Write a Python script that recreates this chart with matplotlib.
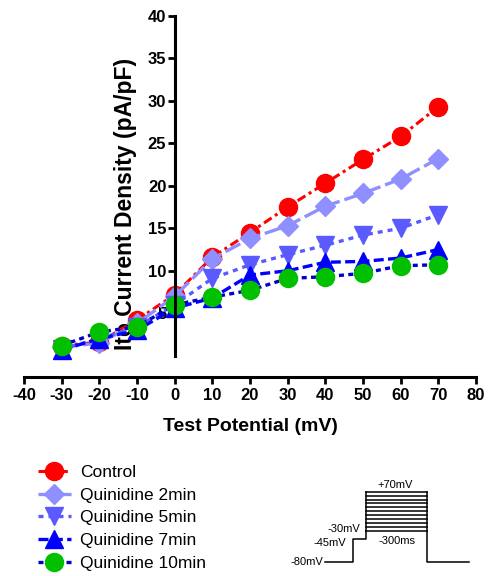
import matplotlib
matplotlib.use("Agg")
import matplotlib.pyplot as plt
import numpy as np

plt.rcParams['font.family'] = ['Liberation Sans', 'DejaVu Sans']
plt.rcParams['axes.unicode_minus'] = False

potentials = [-30, -20, -10, 0, 10, 20, 30, 40, 50, 60, 70]
control = [1.2, 1.6, 4.2, 7.2, 11.6, 14.5, 17.5, 20.3, 23.1, 25.8, 29.3]
quin_2 = [1.0, 1.5, 3.8, 7.0, 11.4, 13.8, 15.3, 17.6, 19.1, 20.8, 23.2]
quin_5 = [0.8, 2.0, 3.4, 6.0, 9.1, 10.7, 11.9, 13.0, 14.2, 15.0, 16.6]
quin_7 = [0.7, 2.0, 3.0, 5.6, 6.8, 9.5, 10.0, 11.0, 11.1, 11.5, 12.5]
quin_10 = [1.2, 2.8, 3.4, 6.0, 6.9, 7.7, 9.1, 9.3, 9.7, 10.6, 10.7]
labels = ["Control", "Quinidine 2min", "Quinidine 5min", "Quinidine 7min", "Quinidine 10min"]
xticks = [-40, -30, -20, -10, 0, 10, 20, 30, 40, 50, 60, 70, 80]
yticks = [5, 10, 15, 20, 25, 30, 35, 40]

fig = plt.figure(figsize=(4.88, 5.76), dpi=100)
ax = fig.add_axes([24/488, 1-377/576, 452/488, (377-15.8)/576])

styles = [
    dict(color='#ff0000', mfc='#ff0000', mec='#ff0000', marker='o', ls=(0, (3, 1.3, 1, 1.3)), ms=13, lw=2.2),
    dict(color='#8f8fff', mfc='#8f8fff', mec='#8f8fff', marker='D', ls=(0, (5, 1.5)), ms=10, lw=2.4),
    dict(color='#5a5aff', mfc='#5a5aff', mec='#5a5aff', marker='v', ls=(0, (1.5, 1.5)), ms=13, lw=2.4),
    dict(color='#0000ff', mfc='#0000ff', mec='#0000ff', marker='^', ls=(0, (3, 1.3)), ms=13, lw=2.4),
    dict(color='#0000c8', mfc='#00c000', mec='#00c000', marker='o', ls=(0, (1.5, 1.3)), ms=13, lw=2.4),
]
series = [control, quin_2, quin_5, quin_7, quin_10]
handles = []
for s, lab, st in zip(series, labels, styles):
    h, = ax.plot(potentials, s, label=lab, clip_on=False, **st)
    handles.append(h)

ax.set_xlim(-40, 80)
ax.set_ylim(-2.5, 40)
ax.spines['top'].set_visible(False)
ax.spines['right'].set_visible(False)
ax.spines['left'].set_position(('data', 0))
ax.spines['left'].set_bounds(0, 40)
for sp in ['left', 'bottom']:
    ax.spines[sp].set_linewidth(2.2)
ax.set_xticks(xticks)
ax.set_yticks(yticks)
ax.tick_params(axis='both', width=2, length=5, labelsize=12)
ax.tick_params(axis='y', pad=1)
ax.tick_params(axis='x', pad=3)
for t in ax.get_xticklabels() + ax.get_yticklabels():
    t.set_fontweight('bold')
ax.set_xlabel("Test Potential (mV)", fontsize=14, fontweight='bold', labelpad=11)
ax.set_ylabel("Ito Current Density (pA/pF)", fontsize=16.5, fontweight='bold')
ax.yaxis.set_label_coords(0.25, 0.478)

fig.legend(handles=handles, labels=labels, loc='upper left',
           bbox_to_anchor=(38/488, 1-465/576), frameon=False, fontsize=12.5,
           handlelength=1.9, handletextpad=0.5, labelspacing=0.43, borderaxespad=0,
           borderpad=0)

# voltage protocol inset (schematic)
ins = fig.add_axes([280/488, 1-570/576, 200/488, 90/576])
ins.set_xlim(0, 1)
ins.set_ylim(0, 1)
ins.axis('off')
base_y, pre_y, low_y, high_y = 0.089, 0.344, 0.433, 0.87
x0, x1, x2, x3, x4 = 0.225, 0.365, 0.43, 0.735, 0.945
ins.plot([x0, x1, x1, x2, x2], [base_y, base_y, pre_y, pre_y, low_y], color='black', lw=1.1)
ins.plot([x2, x2], [low_y, high_y], color='black', lw=1.1)
ins.plot([x3, x3, x4], [high_y, base_y, base_y], color='black', lw=1.1)
for lv in np.linspace(low_y, high_y, 11):
    ins.plot([x2, x3], [lv, lv], color='black', lw=1.1)
ins.text(0.575, 0.944, "+70mV", fontsize=8, ha='center', va='center')
ins.text(0.40, 0.456, "-30mV", fontsize=8, ha='right', va='center')
ins.text(0.33, 0.30, "-45mV", fontsize=8, ha='right', va='center')
ins.text(0.215, 0.089, "-80mV", fontsize=8, ha='right', va='center')
ins.text(0.585, 0.322, "-300ms", fontsize=8, ha='center', va='center')

fig.savefig("out.png", dpi=100)
